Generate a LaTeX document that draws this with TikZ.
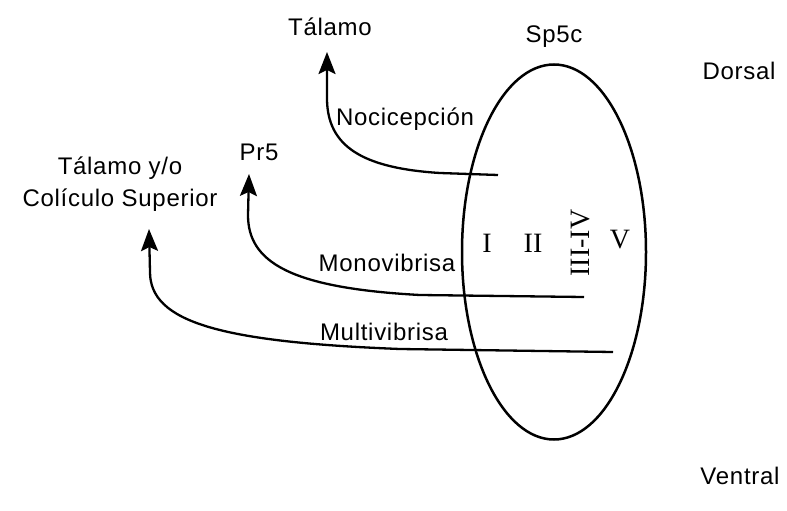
\documentclass[tikz,border=0pt]{standalone}
\usepackage{fontspec}
\setmainfont{Liberation Sans}[LetterSpace=3]
\newfontfamily\romfont{Liberation Serif}
\usetikzlibrary{arrows.meta,shapes.geometric}
\begin{document}
\begin{tikzpicture}[x=1pt,y=-1pt,
  lbl/.style={font=\fontsize{24}{32}\selectfont, inner sep=0pt, align=center},
  rom/.style={font=\romfont\fontsize{28}{30}\selectfont, inner sep=0pt},
  fiber/.style={line width=2.3pt, -{Stealth[length=22pt,width=17pt,inset=4pt]}},
  body/.style={line width=2.5pt}]
\useasboundingbox (0,0) rectangle (787,511);
% labels
\node[lbl] (talamo) at (330,27) {Tálamo};
\node[lbl] (sp5c) at (554,37) {Sp5c};
\node[lbl] (dorsal) at (739,71) {Dorsal};
\node[lbl] (ventral) at (740,476) {Ventral};
\node[lbl] (pr5) at (259,152) {Pr5};
\node[lbl] (tys) at (120,184) {Tálamo y/o\\Colículo Superior};
\node[lbl] (noci) at (405,119) {Nocicepción};
\node[lbl] (mono) at (387,263) {Monovibrisa};
\node[lbl] (multi) at (384,332) {Multivibrisa};
% nucleus
\node[body, draw, ellipse, minimum width=184pt, minimum height=375pt, inner sep=0pt] (nuc) at (554,252) {};
\node[rom] (l1) at (487,243) {I};
\node[rom] (l2) at (533,243) {II};
\node[rom, rotate=90] (l34) at (581,243) {III-IV};
\node[rom] (l5) at (620,240) {V};
% fiber end points
\coordinate (nE) at (498,175);
\coordinate (mE) at (584,297);
\coordinate (uE) at (613,352);
\coordinate (nT) at (327,52);
\coordinate (mT) at (249,174);
\coordinate (uT) at (149,229);
% fibers
\draw[fiber] (nE) -- (440,173) .. controls (360,168) and (328,145) .. (327,100) -- (nT);
\draw[fiber] (mE) -- (420,295) .. controls (290,288) and (248,262) .. (248,215) -- (mT);
\draw[fiber] (uE) -- (400,349) .. controls (220,342) and (150,322) .. (150,272) -- (uT);
\end{tikzpicture}
\end{document}
